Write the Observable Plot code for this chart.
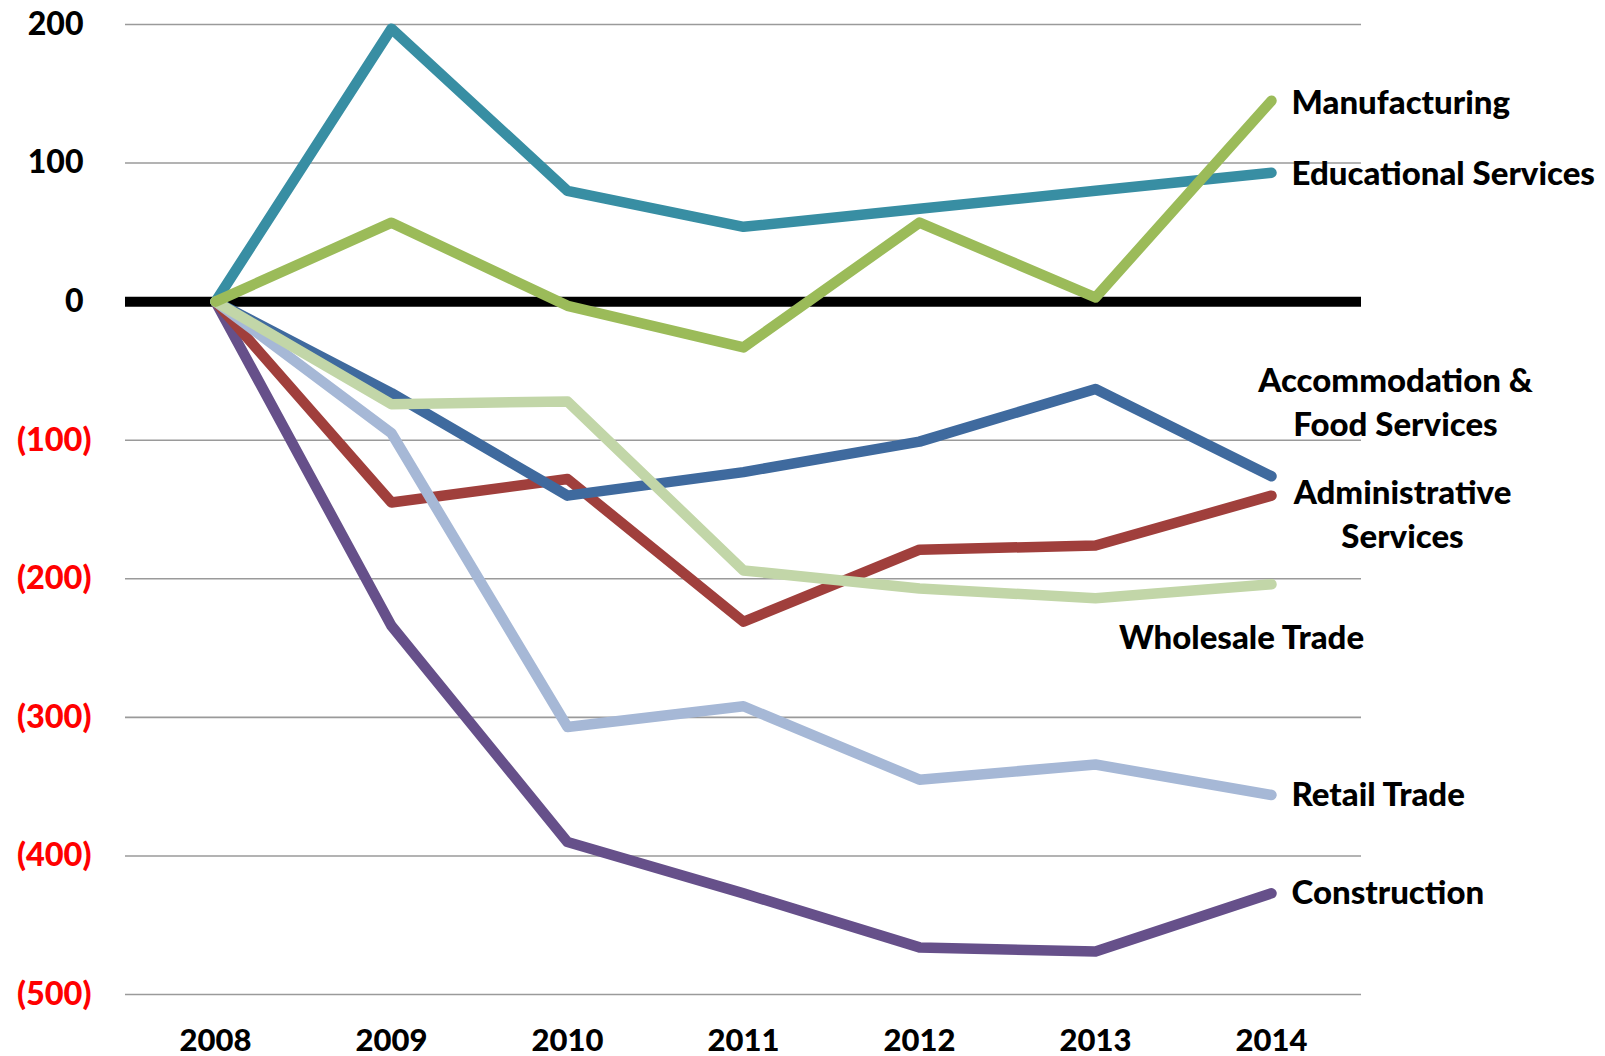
<!DOCTYPE html>
<html>
<head>
<meta charset="utf-8">
<script src="https://cdn.jsdelivr.net/npm/d3@7"></script>
<script src="https://cdn.jsdelivr.net/npm/@observablehq/plot@0.6"></script>
<style>
  html, body { margin: 0; padding: 0; background: #fff; }
  #chart svg { display: block; }
</style>
</head>
<body>
<div id="chart"></div>
<script>
const years = ["2008", "2009", "2010", "2011", "2012", "2013", "2014"];
const educational   = [0, 197, 80, 54, 67, 80, 93];
const manufacturing = [0, 57, -3, -33, 57, 3, 145];
const accommodation = [0, -66, -140, -123, -101, -63, -126];
const administrative= [0, -145, -128, -231, -179, -176, -140];
const wholesale     = [0, -74, -72, -194, -207, -214, -204];
const retail        = [0, -95, -307, -292, -345, -334, -356];
const construction  = [0, -234, -390, -427, -466, -469, -427];
const positiveTicks = [0, 100, 200];
const negativeTicks = [-100, -200, -300, -400, -500];

// drawing order (bottom to top), colours and label placement
const series = [
  {name: "Construction", values: construction, color: "#66508A", label: ["Construction"], dx: 20, dy: -3, anchor: "start"},
  {name: "Administrative Services", values: administrative, color: "#A03F3C", label: ["Administrative", "Services"], dx: 131, dy: 16, anchor: "middle"},
  {name: "Retail Trade", values: retail, color: "#A6B8D6", label: ["Retail Trade"], dx: 20, dy: -3, anchor: "start"},
  {name: "Accommodation & Food Services", values: accommodation, color: "#3F6A9E", label: ["Accommodation &", "Food Services"], dx: 124, dy: -76, anchor: "middle"},
  {name: "Educational Services", values: educational, color: "#388EA3", label: ["Educational Services"], dx: 20, dy: -2, anchor: "start"},
  {name: "Wholesale Trade", values: wholesale, color: "#C2D6A8", label: ["Wholesale Trade"], dx: -30, dy: 51, anchor: "middle"},
  {name: "Manufacturing", values: manufacturing, color: "#9BBB59", label: ["Manufacturing"], dx: 20, dy: -1, anchor: "start"}
];

const FONT = "Lato, 'Open Sans', sans-serif";
const fmt = d => d < 0 ? `(${Math.abs(d)})` : `${d}`;

const marks = [
  Plot.ruleY([...positiveTicks.filter(d => d !== 0), ...negativeTicks], {stroke: "#9a9a9a", strokeWidth: 1.6}),
  Plot.ruleY([0], {stroke: "#000", strokeWidth: 10}),
  Plot.axisY(positiveTicks, {tickSize: 0, tickPadding: 42, tickFormat: fmt, fill: "#000", fontSize: 32, fontWeight: 900, label: null}),
  Plot.axisY(negativeTicks, {tickSize: 0, tickPadding: 34, tickFormat: fmt, fill: "#FF0000", fontSize: 32.5, fontWeight: 900, label: null}),
  Plot.axisX({tickSize: 0, tickPadding: 34, fill: "#000", fontSize: 31, fontWeight: 900, label: null})
];

for (const s of series) {
  const rows = years.map((y, i) => ({year: y, value: s.values[i]}));
  marks.push(Plot.line(rows, {x: "year", y: "value", stroke: s.color, strokeWidth: 10.5, strokeLinecap: "round", strokeLinejoin: "round"}));
}
for (const s of series) {
  const last = years.length - 1;
  marks.push(Plot.text([{year: years[last], value: s.values[last], text: s.label.join("\n")}], {
    x: "year", y: "value", text: "text", dx: s.dx, dy: s.dy, textAnchor: s.anchor,
    lineHeight: 1.33, fill: "#000", fontSize: 33, fontWeight: 900
  }));
}

const chart = Plot.plot({
  width: 1605,
  height: 1056,
  marginLeft: 125,
  marginRight: 244,
  marginTop: 24,
  marginBottom: 62,
  style: {fontFamily: FONT, background: "#fff", overflow: "visible"},
  x: {type: "point", domain: years, padding: 0.5},
  y: {domain: [-500, 200]},
  marks
});
document.getElementById("chart").appendChild(chart);
</script>
</body>
</html>
